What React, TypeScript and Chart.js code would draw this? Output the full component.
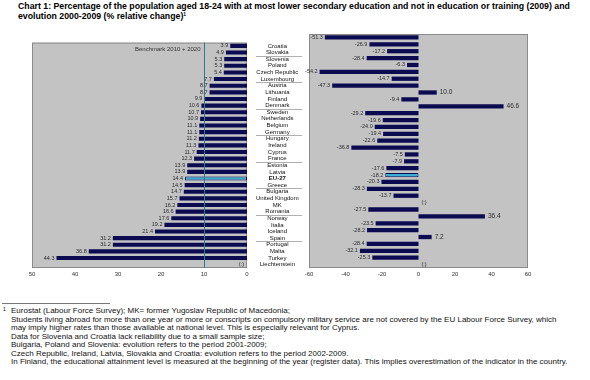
import React, { useEffect, useRef } from "react";
import { Chart, registerables } from "chart.js";
Chart.register(...registerables);

const countries = [
  "Croatia", "Slovakia", "Slovenia", "Poland", "Czech Republic", "Luxembourg",
  "Austria", "Lithuania", "Finland", "Denmark", "Sweden", "Netherlands",
  "Belgium", "Germany", "Hungary", "Ireland", "Cyprus", "France",
  "Estonia", "Latvia", "EU-27", "Greece", "Bulgaria", "United Kingdom",
  "MK", "Romania", "Norway", "Italia", "Iceland", "Spain",
  "Portugal", "Malta", "Turkey", "Liechtenstein",
];
const shares2009: (number | null)[] = [
  3.9, 4.9, 5.3, 5.3, 5.4, 7.7, 8.7, 8.7, 9.9, 10.6, 10.7, 10.9,
  11.1, 11.1, 11.2, 11.3, 11.7, 12.3, 13.9, 13.9, 14.4, 14.5, 14.7, 15.7,
  16.2, 16.6, 17.6, 19.2, 21.4, 31.2, 31.2, 36.8, 44.3, null,
];
const change2000_2009: (number | null)[] = [
  -51.3, -26.9, -17.2, -28.4, -6.3, -54.2, -14.7, -47.3, 10.0, -9.4, 46.6, -29.2,
  -19.6, -24.0, -19.4, -22.6, -36.8, -7.5, -7.9, -17.6, -18.2, -20.3, -28.3, -13.7,
  null, -27.5, 36.4, -23.5, -28.2, 7.2, -28.4, -32.1, -25.3, null,
];
const benchmark = 10;
const benchmarkLabel = "Benchmark 2010 + 2020";
const highlight = "EU-27";
const separatorsAfter = ["Slovakia", "Luxembourg", "Denmark", "Germany", "France", "Greece", "Romania", "Spain"];

const FONT = "'Liberation Sans', Arial, sans-serif";
const BAR = "#0b0b52";
const BAR_HI = "#3aaed6";
const PLOT_BG = "#c3c3c3";

const bgPlugin = {
  id: "plotBg",
  beforeDraw(chart: any) {
    const { ctx, chartArea: a } = chart;
    ctx.save();
    ctx.fillStyle = PLOT_BG;
    ctx.fillRect(a.left, a.top, a.right - a.left, a.bottom - a.top);
    ctx.strokeStyle = "#8a8a8a";
    ctx.lineWidth = 1;
    ctx.strokeRect(a.left + 0.5, a.top + 0.5, a.right - a.left - 1, a.bottom - a.top - 1);
    ctx.restore();
  },
};

const valueLabels = {
  id: "valueLabels",
  afterDatasetsDraw(chart: any) {
    const { ctx } = chart;
    const ds = chart.data.datasets[0];
    const meta = chart.getDatasetMeta(0);
    const xs = chart.scales.x;
    const zero = xs.getPixelForValue(0);
    const reversed = !!xs.options.reverse;
    ctx.save();
    ctx.fillStyle = "#2a2a2a";
    ctx.textBaseline = "middle";
    meta.data.forEach((el: any, i: number) => {
      const v = ds.data[i];
      const y = chart.scales.y.getPixelForValue(i);
      if (v === null || v === undefined) {
        ctx.font = `5.5px ${FONT}`;
        if (reversed) {
          ctx.textAlign = "right";
          ctx.fillText("(:)", zero - 3, y);
        } else {
          ctx.textAlign = "left";
          ctx.fillText("(:)", zero + 3, y);
        }
        return;
      }
      const txt = v.toFixed(1);
      if (reversed || v < 0) {
        ctx.font = `5.5px ${FONT}`;
        ctx.textAlign = "right";
        ctx.fillText(txt, el.x - 2, y);
      } else {
        ctx.font = `6.5px ${FONT}`;
        ctx.textAlign = "left";
        ctx.fillText(txt, el.x + 3, y);
      }
    });
    ctx.restore();
  },
};

const benchmarkPlugin = {
  id: "benchmarkLine",
  afterDatasetsDraw(chart: any) {
    const { ctx, chartArea: a } = chart;
    const x = Math.round(chart.scales.x.getPixelForValue(benchmark)) + 0.5;
    ctx.save();
    ctx.strokeStyle = "#2b7d8c";
    ctx.lineWidth = 1;
    ctx.beginPath();
    ctx.moveTo(x, a.top);
    ctx.lineTo(x, a.bottom);
    ctx.stroke();
    ctx.fillStyle = "#333";
    ctx.font = `6px ${FONT}`;
    ctx.textAlign = "right";
    ctx.textBaseline = "middle";
    ctx.fillText(benchmarkLabel, x - 4, a.top + 7);
    ctx.restore();
  },
};

const separatorPlugin = {
  id: "separators",
  afterDraw(chart: any) {
    const { ctx, chartArea: a } = chart;
    const ys = chart.scales.y;
    ctx.save();
    ctx.strokeStyle = "#9a9a9a";
    ctx.lineWidth = 0.8;
    separatorsAfter.forEach((name) => {
      const i = countries.indexOf(name);
      const y = Math.round((ys.getPixelForValue(i) + ys.getPixelForValue(i + 1)) / 2) + 0.5;
      ctx.beginPath();
      ctx.moveTo(a.right + 9, y);
      ctx.lineTo(a.right + 55, y);
      ctx.stroke();
    });
    ctx.restore();
  },
};

function colors() {
  return countries.map((c) => (c === highlight ? BAR_HI : BAR));
}

function LeftChart() {
  const ref = useRef<HTMLCanvasElement>(null);
  useEffect(() => {
    const chart = new Chart(ref.current!, {
      type: "bar",
      data: {
        labels: countries,
        datasets: [{
          data: shares2009 as any,
          backgroundColor: colors(),
          borderColor: countries.map((c) => (c === highlight ? BAR : "rgba(0,0,0,0)")),
          borderWidth: countries.map((c) => (c === highlight ? 1 : 0)),
          borderSkipped: false,
          barPercentage: 0.62,
          categoryPercentage: 1,
        }],
      },
      options: {
        indexAxis: "y",
        responsive: false,
        animation: false,
        layout: { padding: { left: 32, top: 4, right: 0, bottom: 0 } },
        scales: {
          x: {
            reverse: true, min: 0, max: 50,
            grid: { display: false, drawTicks: false },
            border: { display: false },
            ticks: { stepSize: 10, padding: 3, color: "#333", font: { size: 6, family: FONT } },
            afterFit: (s: any) => { s.height = 22; },
          },
          y: {
            position: "right",
            grid: { display: false, drawTicks: false },
            border: { display: false },
            ticks: {
              autoSkip: false, crossAlign: "center", padding: 9, color: "#111",
              font: (ctx: any) => ({ size: 6, family: FONT, weight: countries[ctx.index] === highlight ? "bold" : "normal" }),
            },
            afterFit: (s: any) => { s.width = 63; },
          },
        },
        plugins: { legend: { display: false }, tooltip: { enabled: false } },
      } as any,
      plugins: [bgPlugin, benchmarkPlugin, valueLabels, separatorPlugin],
    });
    return () => chart.destroy();
  }, []);
  return <canvas ref={ref} width={310} height={260} style={{ position: "absolute", left: 0, top: 30, width: 310, height: 260 }} />;
}

function RightChart() {
  const ref = useRef<HTMLCanvasElement>(null);
  useEffect(() => {
    const chart = new Chart(ref.current!, {
      type: "bar",
      data: {
        labels: countries,
        datasets: [{
          data: change2000_2009 as any,
          backgroundColor: colors(),
          borderColor: countries.map((c) => (c === highlight ? BAR : "rgba(0,0,0,0)")),
          borderWidth: countries.map((c) => (c === highlight ? 1 : 0)),
          borderSkipped: false,
          barPercentage: 0.62,
          categoryPercentage: 1,
        }],
      },
      options: {
        indexAxis: "y",
        responsive: false,
        animation: false,
        layout: { padding: { left: 9, top: 4, right: 32, bottom: 0 } },
        scales: {
          x: {
            min: -60, max: 60,
            grid: { display: false, drawTicks: false },
            border: { display: false },
            ticks: { stepSize: 20, padding: 3, color: "#333", font: { size: 6, family: FONT } },
            afterFit: (s: any) => { s.height = 22; },
          },
          y: { display: false },
        },
        plugins: { legend: { display: false }, tooltip: { enabled: false } },
      } as any,
      plugins: [bgPlugin, valueLabels],
    });
    return () => chart.destroy();
  }, []);
  return <canvas ref={ref} width={260} height={260} style={{ position: "absolute", left: 300, top: 30, width: 260, height: 260 }} />;
}

const footLines = [
  "Students living abroad for more than one year or more or conscripts on compulsory military service are not covered by the EU Labour Force Survey, which",
  "may imply higher rates than those available at national level. This is especially relevant for Cyprus.",
  "Data for Slovenia and Croatia lack reliability due to a small sample size;",
  "Bulgaria, Poland and Slovenia: evolution refers to the period 2001-2009;",
  "Czech Republic, Ireland, Latvia, Slovakia and Croatia: evolution refers to the period 2002-2009.",
  "In Finland, the educational attainment level is measured at the beginning of the year (register data). This implies overestimation of the indicator in the country.",
];

export default function App() {
  return (
    <div style={{ position: "fixed", left: 0, top: 0, width: 590, height: 380, background: "#fff", fontFamily: FONT, color: "#000", overflow: "hidden" }}>
      <div style={{ position: "absolute", left: 18, top: 1, fontSize: 8.75, fontWeight: "bold", lineHeight: "10px", whiteSpace: "nowrap" }}>
        Chart 1: Percentage of the population aged 18-24 with at most lower secondary education and not in education or training (2009) and<br />
        evolution 2000-2009 (% relative change)<sup style={{ fontSize: 5, verticalAlign: "top", lineHeight: "6px" }}>1</sup>
      </div>
      <LeftChart />
      <RightChart />
      <div style={{ position: "absolute", left: 2, top: 303, width: 108, height: 0, borderTop: "1px solid #777" }} />
      <div style={{ position: "absolute", left: 3, top: 306, fontSize: 5 }}>1</div>
      <div style={{ position: "absolute", left: 11, top: 307, fontSize: 8.0, lineHeight: "8.5px", whiteSpace: "nowrap", color: "#111" }}>
        <div>Eurostat (Labour Force Survey); MK= former Yugoslav Republic of Macedonia;</div>
        {footLines.map((l, i) => <div key={i}>{l}</div>)}
      </div>
    </div>
  );
}
